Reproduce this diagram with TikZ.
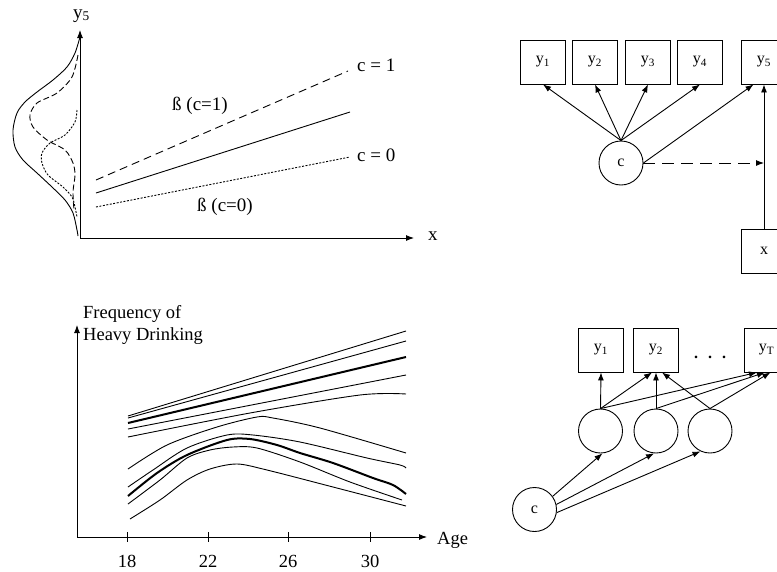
\documentclass[tikz,border=0pt]{standalone}
\usepackage{fontspec}
\setmainfont{Liberation Serif}
\usetikzlibrary{arrows.meta,calc,positioning}
\tikzset{obs/.style={draw,line width=0.9pt,minimum width=45pt,minimum height=44pt,inner sep=0pt,font=\fontsize{16}{18}\selectfont},
  lat/.style={draw,circle,line width=0.9pt,minimum size=44pt,inner sep=0pt,font=\fontsize{16}{18}\selectfont},
  arr/.style={-{Latex[length=8pt,width=6pt]},line width=0.9pt},
  lbl/.style={inner sep=0pt,anchor=base,font=\fontsize{19}{21}\selectfont},
  lblb/.style={inner sep=0pt,anchor=base,font=\fontsize{18.5}{21}\selectfont},
  curve/.style={line width=0.9pt},
  boldcurve/.style={line width=2pt}}
\begin{document}
\begin{tikzpicture}[>=Latex,x=1pt,y=-1pt]
\useasboundingbox (0,0) rectangle (777,571);
\clip (0,0) rectangle (777,571);
% top left: y5 on x, one line per class
\draw[arr] (80,238) -- (80,30);
\draw[arr] (80,238) -- (414,238);
\node[lbl,anchor=base west] (ylab) at (73,18) {y\textsubscript{5}};
\node[lbl,anchor=base west] (xlab) at (428,240) {x};
\draw[curve,dash pattern=on 8pt off 5pt] (96,180) -- (348,71);
\draw[curve] (96,193) -- (350,112);
\draw[curve,dash pattern=on 2pt off 1.5pt] (96,207) -- (350,157);
\node[lbl,anchor=base west] (c1lab) at (357,71) {c = 1};
\node[lbl,anchor=base west] (c0lab) at (357,161) {c = 0};
\node[lbl] (b1lab) at (200,110) {ß (c=1)};
\node[lbl] (b0lab) at (225,211) {ß (c=0)};
% mixture density of y5 and its two parts
\draw[curve] plot[smooth] coordinates {(80,37) (75,53) (67,67) (53,80) (37,92) (25,102) (17,113) (13,130) (15,147) (23,160) (37,173) (52,187) (65,200) (73,213) (77,230) (78,236)};
\draw[curve,dash pattern=on 6pt off 3pt] plot[smooth] coordinates {(78,55) (72,77) (57,93) (37,103) (30,115) (33,127) (47,140) (65,150) (73,163) (75,175) (73,192) (74,210)};
\draw[curve,dash pattern=on 2pt off 1.5pt] plot[smooth] coordinates {(77,110) (75,122) (65,135) (50,143) (42,153) (42,163) (48,175) (63,187) (72,197) (75,207) (77,217)};

% bottom left: growth curves
\draw[arr] (77,537) -- (77,325);
\draw[arr] (77,537) -- (427,537);
\foreach \a/\xx in {18/127,22/208,26/288,30/370}{
  \draw[curve] (\xx,532) -- (\xx,542);
  \node[lblb] at (\xx,567) {\a};
}
\node[lblb,anchor=base west] (agelab) at (437,544) {Age};
\node[lblb,anchor=base west] (flab1) at (83,318) {Frequency of};
\node[lblb,anchor=base west] (flab2) at (83,340) {Heavy Drinking};
\draw[curve] (128,416) -- (406,331);
\draw[curve] (128,418) -- (406,341);
\draw[boldcurve] (128,423) -- (406,357);
\draw[curve] (128,429) -- (406,375);
\draw[curve] plot[smooth] coordinates {(128,437) (250,413) (360,395) (406,394)};
\draw[curve] plot[smooth] coordinates {(128,469) (167,445) (217,427) (257,417) (273,418) (320,428) (406,453)};
\draw[curve] plot[smooth] coordinates {(128,487) (153,470) (187,448) (227,435) (253,435) (300,442) (367,458) (400,465) (406,468)};
\draw[boldcurve] plot[smooth] coordinates {(128,496) (157,473) (187,455) (227,440) (250,439) (277,445) (300,453) (333,463) (373,478) (393,485) (406,494)};
\draw[curve] plot[smooth] coordinates {(128,504) (160,480) (187,458) (210,450) (233,447) (257,448) (300,462) (350,482) (402,500)};
\draw[curve] plot[smooth] coordinates {(130,519) (160,500) (187,480) (210,469) (237,464) (267,470) (333,487) (406,506)};

% top right: latent class model with covariate
\node[lat] (c) at (621,163) {c};
\foreach \i/\xx in {1/543,2/595,3/648,4/700}{
  \node[obs] (y\i) at (\xx,62) {y\textsubscript{\i}};
  \draw[arr] (c.north) -- (y\i.south);
}
\node[obs] (y5) at (764,62) {y\textsubscript{5}};
\node[obs] (xbox) at (764,251) {x};
\draw[arr] (c.east) -- (y5.245);
\draw[arr] (xbox) -- (y5);
\draw[arr,dash pattern=on 12pt off 7pt] (c.east) -- (c.east -| xbox.north);

% bottom right: growth mixture model
\node[lat] (cb) at (534.5,509.5) {c};
\foreach \i/\xx in {1/600.5,2/656,3/710}{
  \node[lat] (eta\i) at (\xx,431) {};
}
\node[obs] (yb1) at (601,350) {y\textsubscript{1}};
\node[obs] (yb2) at (656,350) {y\textsubscript{2}};
\node[obs] (ybT) at (766.5,350) {y\textsubscript{T}};
\node[anchor=base,inner sep=0pt,font=\fontsize{16}{18}\selectfont\bfseries] (dots) at (710,358) {.\hspace{10pt}.\hspace{10pt}.};
\draw[arr] (cb.36) -- (eta1.275);
\draw[arr] (cb.13) -- (eta2.265);
\draw[arr] (cb.352) -- (eta3.245);
\draw[arr] (eta1.north) -- (yb1.south);
\draw[arr] (eta1.north) -- (yb2.260);
\draw[arr] (eta1.north) -- (ybT.247);
\draw[arr] (eta2.north) -- (yb2.south);
\draw[arr] (eta2.north) -- (ybT.266);
\draw[arr] (eta3.north) -- (yb2.285);
\draw[arr] (eta3.north) -- (ybT.280);
\end{tikzpicture}
\end{document}
